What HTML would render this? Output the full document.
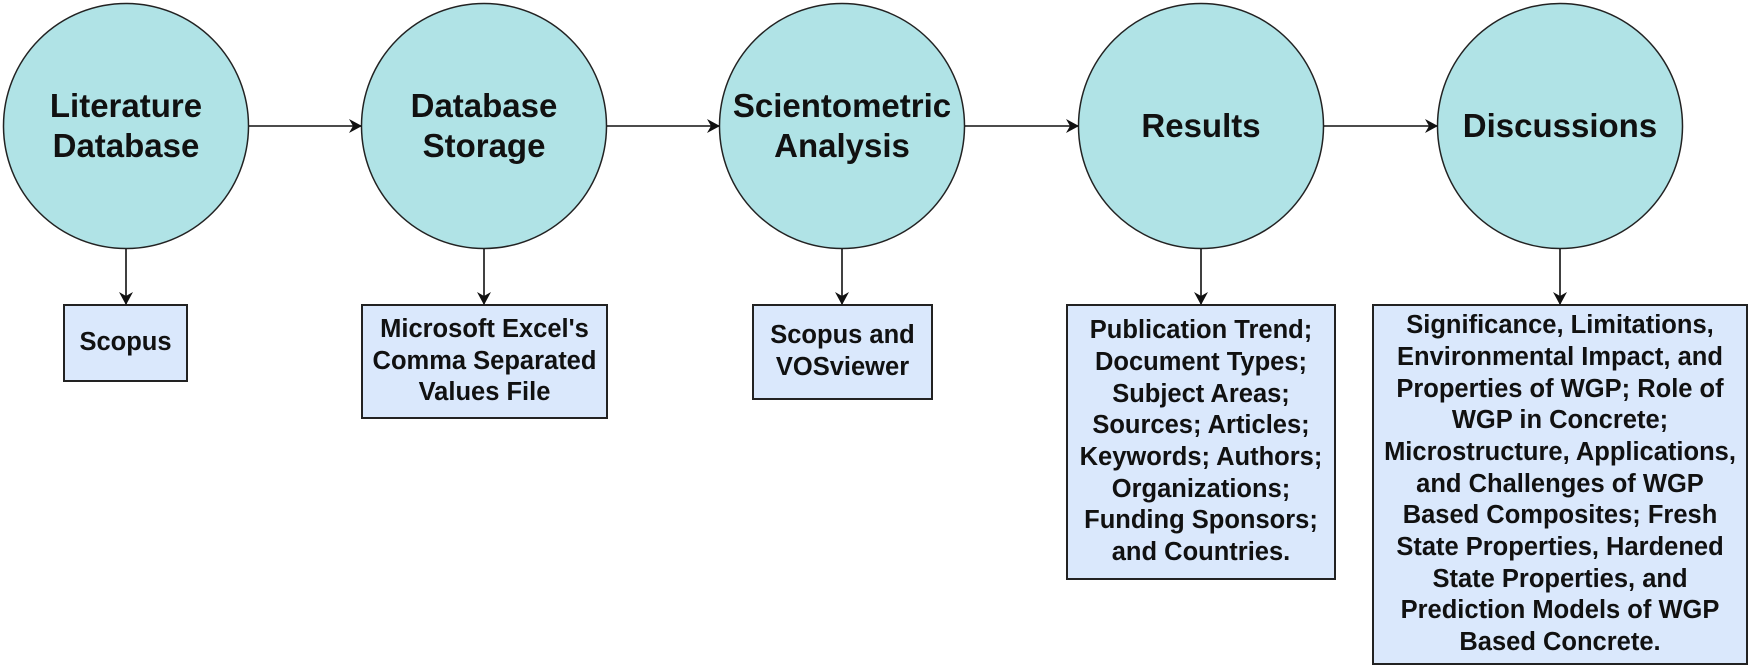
<!DOCTYPE html>
<html><head><meta charset="utf-8"><style>
html,body{margin:0;padding:0;background:#fff;}
#w{position:relative;width:1750px;height:668px;overflow:hidden;font-family:"Liberation Sans",Arial,sans-serif;font-weight:bold;color:#111;}
svg{position:absolute;left:0;top:0;}
.t{position:absolute;display:flex;align-items:center;justify-content:center;text-align:center;}
.c{font-size:33px;line-height:40px;}
.b{font-size:25.5px;line-height:31.7px;}
</style></head><body><div id="w">
<svg width="1750" height="668" viewBox="0 0 1750 668">
<defs><marker id="a" markerWidth="14" markerHeight="14" refX="12" refY="7" orient="auto" markerUnits="userSpaceOnUse"><path d="M0,0 L13,7 L0,14 L4,7 Z" fill="#111"/></marker></defs>
<g fill="#b0e3e6" stroke="#222" stroke-width="1.5">
<circle cx="126" cy="126" r="122.5"/>
<circle cx="484" cy="126" r="122.5"/>
<circle cx="842" cy="126" r="122.5"/>
<circle cx="1201" cy="126" r="122.5"/>
<circle cx="1560" cy="126" r="122.5"/>
</g>
<g fill="#dae8fc" stroke="#222" stroke-width="2">
<rect x="64" y="305" width="123" height="76"/>
<rect x="362" y="305" width="245" height="113"/>
<rect x="753" y="305" width="179" height="94"/>
<rect x="1067" y="305" width="268" height="274"/>
<rect x="1373" y="305" width="374" height="359"/>
</g>
<g stroke="#111" stroke-width="1.6" fill="none" marker-end="url(#a)">
<line x1="249" y1="126" x2="361" y2="126"/>
<line x1="607" y1="126" x2="719" y2="126"/>
<line x1="965" y1="126" x2="1078" y2="126"/>
<line x1="1324" y1="126" x2="1437" y2="126"/>
<line x1="126" y1="249" x2="126" y2="304"/>
<line x1="484" y1="249" x2="484" y2="304"/>
<line x1="842" y1="249" x2="842" y2="304"/>
<line x1="1201" y1="249" x2="1201" y2="304"/>
<line x1="1560" y1="249" x2="1560" y2="304"/>
</g>
</svg>
<div class="t c" style="left:4px;top:4px;width:244px;height:244px;">Literature<br>Database</div>
<div class="t c" style="left:362px;top:4px;width:244px;height:244px;">Database<br>Storage</div>
<div class="t c" style="left:712px;top:4px;width:260px;height:244px;">Scientometric<br>Analysis</div>
<div class="t c" style="left:1079px;top:4px;width:244px;height:244px;">Results</div>
<div class="t c" style="left:1438px;top:4px;width:244px;height:244px;">Discussions</div>
<div class="t b" style="left:64px;top:305px;width:123px;height:76px;">Scopus</div>
<div class="t b" style="left:352px;top:305px;width:265px;height:113px;">Microsoft Excel's<br>Comma Separated<br>Values File</div>
<div class="t b" style="left:753px;top:305px;width:179px;height:94px;">Scopus and<br>VOSviewer</div>
<div class="t b" style="left:1057px;top:305px;width:288px;height:274px;">Publication Trend;<br>Document Types;<br>Subject Areas;<br>Sources; Articles;<br>Keywords; Authors;<br>Organizations;<br>Funding Sponsors;<br>and Countries.</div>
<div class="t b" style="left:1363px;top:305px;width:394px;height:359px;">Significance, Limitations,<br>Environmental Impact, and<br>Properties of WGP; Role of<br>WGP in Concrete;<br>Microstructure, Applications,<br>and Challenges of WGP<br>Based Composites; Fresh<br>State Properties, Hardened<br>State Properties, and<br>Prediction Models of WGP<br>Based Concrete.</div>
</div></body></html>
